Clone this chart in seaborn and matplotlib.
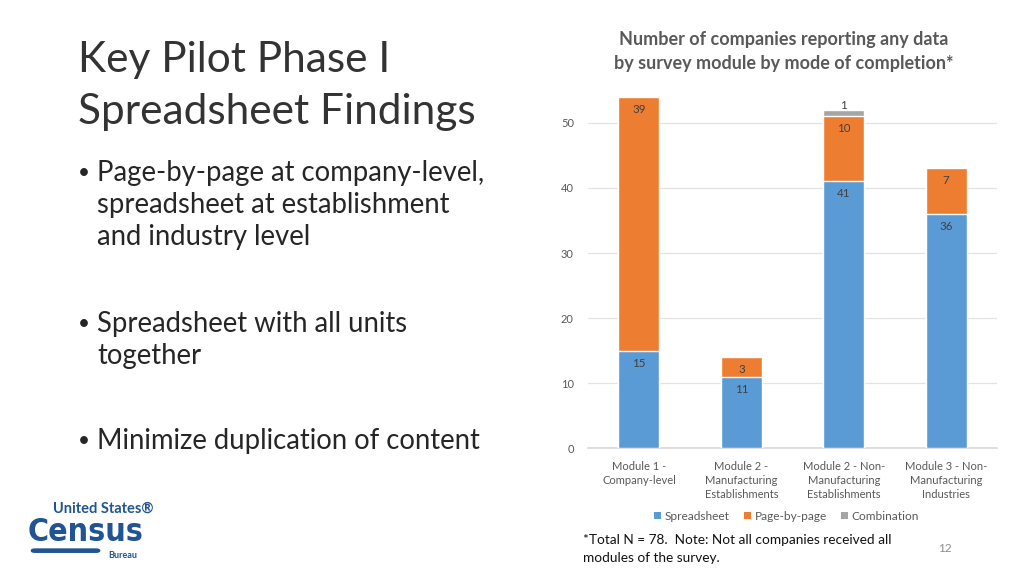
import matplotlib
matplotlib.use("Agg")
import matplotlib.pyplot as plt
import seaborn as sns
import pandas as pd
import numpy as np
from matplotlib.patches import Patch, FancyBboxPatch

categories = ["Module 1 -\nCompany-level",
              "Module 2 -\nManufacturing\nEstablishments",
              "Module 2 - Non-\nManufacturing\nEstablishments",
              "Module 3 - Non-\nManufacturing\nIndustries"]
spreadsheet = [15, 11, 41, 36]
page_by_page = [39, 3, 10, 7]
combination = [0, 0, 1, 0]
series_names = ["Spreadsheet", "Page-by-page", "Combination"]
colors = ["#5B9BD5", "#ED7D31", "#A5A5A5"]
y_ticks = [0, 10, 20, 30, 40, 50]

sns.set_theme(style="white")
plt.rcParams['font.family'] = ['Lato', 'DejaVu Sans']

fig = plt.figure(figsize=(10.24, 5.76), dpi=100)
fig.patch.set_facecolor("white")
ax = fig.add_axes([0.574, 0.222, 0.400, 0.621])

s = np.array(spreadsheet)
p = np.array(page_by_page)
c = np.array(combination)
tops = [s + p + c, s + p, s]
order = [2, 1, 0]
for idx, vals in zip(order, tops):
    df = pd.DataFrame({"cat": categories, "val": vals})
    sns.barplot(data=df, x="cat", y="val", color=colors[idx], width=0.4,
                saturation=1, ax=ax, errorbar=None, zorder=3)

# labels
bottoms = [np.zeros(4), s, s + p]
raw = [s, p, c]
for k in range(3):
    for i in range(4):
        v = raw[k][i]
        if v == 0:
            continue
        top = bottoms[k][i] + v
        if k == 2:
            ax.annotate(str(v), (i, top), xytext=(0, 3), textcoords="offset points",
                        ha="center", va="center", fontsize=8.3, color="#404040")
        else:
            ax.annotate(str(v), (i, top), xytext=(0, -9), textcoords="offset points",
                        ha="center", va="center", fontsize=8.3, color="#404040")

ax.set_ylim(0, 55)
ax.set_xlim(-0.5, 3.5)
ax.set_yticks(y_ticks)
ax.set_yticklabels([str(t) for t in y_ticks])
ax.yaxis.grid(True, color="#E3E3E3", linewidth=0.9, zorder=0)
ax.set_axisbelow(True)
for sp in ["left", "right", "top"]:
    ax.spines[sp].set_visible(False)
ax.spines["bottom"].set_color("#D9D9D9")
ax.tick_params(axis="both", length=0, labelsize=8, colors="#595959")
ax.tick_params(axis="x", pad=9)
ax.tick_params(axis="y", pad=10)
ax.set_xlabel("")
ax.set_ylabel("")
for lbl in ax.get_xticklabels():
    lbl.set_linespacing(1.35)
    lbl.set_va("top")

handles = [Patch(facecolor=colors[i], edgecolor="none") for i in range(3)]
fig.legend(handles, series_names, loc="center", bbox_to_anchor=(0.768, 0.104),
           ncol=3, frameon=False, fontsize=8.6, handlelength=0.6, handleheight=0.6,
           handletextpad=0.3, columnspacing=1.2, labelcolor="#595959")

# chart title
fig.text(0.765, 0.931, "Number of companies reporting any data", ha="center", va="center",
         fontsize=13, fontweight="bold", color="#595959")
fig.text(0.765, 0.889, "by survey module by mode of completion*", ha="center", va="center",
         fontsize=13, fontweight="bold", color="#595959")

# Slide title
fig.text(0.076, 0.895, "Key Pilot Phase I", ha="left", va="center", fontsize=30.5,
         fontweight="normal", color="#333333")
fig.text(0.076, 0.805, "Spreadsheet Findings", ha="left", va="center", fontsize=30.5,
         fontweight="normal", color="#333333")

bullets = [(0.700, ["Page-by-page at company-level,", "spreadsheet at establishment", "and industry level"]),
           (0.438, ["Spreadsheet with all units", "together"]),
           (0.234, ["Minimize duplication of content"])]
for y0, lines in bullets:
    fig.text(0.076, y0, "\u2022", ha="left", va="center", fontsize=15, color="#262626")
    for j, ln in enumerate(lines):
        fig.text(0.095, y0 - j * 0.0555, ln, ha="left", va="center", fontsize=19.8, color="#262626")

# footnote
fig.text(0.569, 0.063, "*Total N = 78.  Note: Not all companies received all", ha="left", va="center",
         fontsize=9.8, color="#111111")
fig.text(0.569, 0.032, "modules of the survey.", ha="left", va="center", fontsize=9.8, color="#111111")
fig.text(0.916, 0.047, "12", ha="left", va="center", fontsize=8.5, color="#8C8C8C")

# Census logo
blue = "#205493"
fig.text(0.052, 0.117, "United States\u00ae", ha="left", va="center", fontsize=10.5, fontweight="bold", color=blue)
fig.text(0.027, 0.076, "Census", ha="left", va="center", fontsize=23, fontweight="black", color=blue,
         family=["DejaVu Sans"], stretch="condensed")
fig.text(0.106, 0.036, "Bureau", ha="left", va="center", fontsize=6.5, fontweight="bold", color=blue)
bar = FancyBboxPatch((0.030, 0.040), 0.068, 0.008, boxstyle="round,pad=0,rounding_size=0.004",
                     transform=fig.transFigure, facecolor=blue, edgecolor="none")
fig.patches.append(bar)

fig.savefig("out.png", dpi=100, facecolor="white")
